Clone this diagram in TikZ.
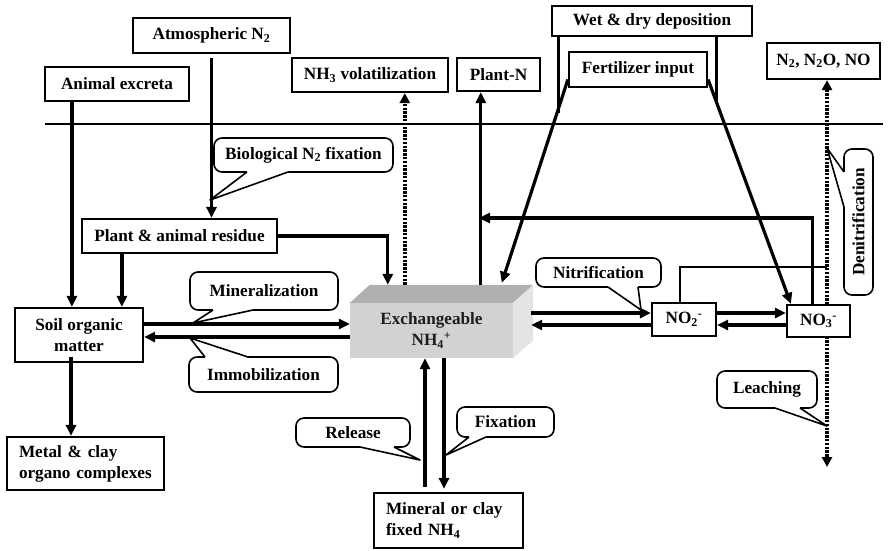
\documentclass[tikz,border=0pt]{standalone}
\usepackage{fontspec}
\setmainfont{Liberation Serif}
\usetikzlibrary{arrows.meta,calc}
\pgfdeclarelayer{background}
\pgfsetlayers{background,main}
\definecolor{exfront}{HTML}{D2D2D2}
\definecolor{extop}{HTML}{B0B0B0}
\definecolor{exside}{HTML}{E4E4E4}
\definecolor{extext}{HTML}{1E1E1E}

% speech-bubble pointer: base point, base point, tip, inward offset
\newcommand\calloutptr[4]{%
  \fill[white] (#1) -- (#3) -- (#2) -- ($(#2)+(#4)$) -- ($(#1)+(#4)$) -- cycle;
  \draw[callline] (#1) -- (#3) -- (#2);
}

\begin{document}
\begin{tikzpicture}[x=1pt,y=-1pt,
  font=\bfseries\fontsize{17.2}{21}\selectfont,
  box/.style={draw,line width=2.2pt,fill=white,inner sep=0pt,align=center},
  callbox/.style={draw,line width=1.6pt,rounded corners=8pt,fill=white,inner sep=0pt},
  callline/.style={line width=1.6pt,line join=round},
  tip/.style={-{Triangle[length=11pt,width=10pt]}},
  flow/.style={line width=3.2pt,tip},
  plainflow/.style={line width=3pt},
  gasflow/.style={line width=3.4pt,dash pattern=on 2.4pt off 1.4pt},
  surface/.style={line width=1.6pt}
]
\useasboundingbox (0,0) rectangle (891,550);

% ---- pools and sources ----
\node[box,minimum width=157pt,minimum height=35pt] (atm) at (211.5,35.5) {Atmospheric N\textsubscript{2}};
\node[box,minimum width=144pt,minimum height=34pt] (excreta) at (117,84) {Animal excreta};
\node[box,minimum width=156pt,minimum height=34pt] (nh3) at (370,75) {NH\textsubscript{3} volatilization};
\node[box,minimum width=83pt,minimum height=33pt] (plantn) at (498.5,74.5) {Plant-N};
\node[box,minimum width=200pt,minimum height=30pt] (wetdry) at (652,21) {Wet \& dry deposition};
\node[box,minimum width=138pt,minimum height=35pt] (fert) at (638,69.5) {Fertilizer input};
\node[box,minimum width=113pt,minimum height=36pt] (n2o) at (823.5,61) {N\textsubscript{2}, N\textsubscript{2}O, NO};
\node[box,minimum width=195pt,minimum height=34pt] (residue) at (179.5,236) {Plant \& animal residue};
\node[box,minimum width=128pt,minimum height=54pt] (soil) at (79,335) {Soil organic\\matter};
\node[box,minimum width=64pt,minimum height=33pt] (no2) at (684,319.5) {NO\textsubscript{2}\textsuperscript{-}};
\node[box,minimum width=63pt,minimum height=32pt] (no3) at (818.5,321) {NO\textsubscript{3}\textsuperscript{-}};
\node[box,minimum width=157pt,minimum height=53pt,text width=133pt,align=left] (metal) at (85.5,463.5) {Metal \& clay\\organo complexes};
\node[box,minimum width=149pt,minimum height=55pt,text width=125pt,align=left] (mineral) at (448.5,520.5) {Mineral or clay\\fixed NH\textsubscript{4}};

% ---- exchangeable ammonium block ----
\node[fill=exfront,inner sep=0pt,minimum width=163pt,minimum height=55pt,align=center,text=extext] (exch) at (431.5,330.5) {};
\coordinate (exTL) at ([shift={(20,-18)}]exch.north west);
\coordinate (exTR) at ([shift={(20,-18)}]exch.north east);
\coordinate (exBR) at ([shift={(20,-18)}]exch.south east);
\fill[extop] (exch.north west) -- (exTL) -- (exTR) -- (exch.north east) -- cycle;
\fill[exside] (exch.north east) -- (exTR) -- (exBR) -- (exch.south east) -- cycle;
\node[align=center,text=extext] (exchlabel) at (exch.center) {Exchangeable\\NH\textsubscript{4}\textsuperscript{+}};

% ---- soil surface ----
\draw[surface] (45,124) -- (883,124);

% ---- junction points ----
\coordinate (legL) at (558,113);
\coordinate (legR) at (716,103);
\coordinate (uptake) at (479,218);
\coordinate (denitjoin) at (827,267);
\coordinate (leachend) at (827,467);

% ---- gaseous losses and leaching (behind the boxes) ----
\begin{pgfonlayer}{background}
\draw[gasflow,{Triangle[length=10pt,width=10pt]}-{Triangle[length=10pt,width=10pt]}]
  (n2o.south -| denitjoin) -- (leachend);
\end{pgfonlayer}
\draw[gasflow,-{Triangle[length=10pt,width=10pt]}] ([xshift=35pt]exTL) -- ([xshift=35pt]exTL |- nh3.south);

% ---- inputs ----
\draw[flow] ([yshift=-4pt]atm.south) -- (atm.south |- residue.north);
\draw[flow] ([xshift=28pt]excreta.south west) -- ([xshift=28pt]excreta.south west |- soil.north);
\draw[flow] ([xshift=41pt]residue.south west) -- ([xshift=41pt]residue.south west |- soil.north);
\draw[flow] (residue.east) -| ([xshift=18pt]exTL);
\draw[flow] ([yshift=-10pt]fert.west) -- ([shift={(132,-2)}]exTL);
\draw[flow] ([yshift=-10pt]fert.east) -- ([xshift=5pt]no3.north west);
\draw[plainflow] (wetdry.south -| legL) -- (legL);
\draw[plainflow] (wetdry.south -| legR) -- (legR);

% ---- plant uptake ----
\draw[flow] ([xshift=111pt]exTL) -- ([xshift=111pt]exTL |- plantn.south);
\draw[flow] ([xshift=-39pt]no3.north east) |- (uptake);

% ---- transformations ----
\draw[flow] ([yshift=11pt]soil.east) -- ([yshift=11pt]soil.east -| exch.west);
\draw[flow] ([yshift=-2pt]soil.east -| exch.west) -- ([yshift=-2pt]soil.east);
\draw[flow] ([shift={(18,-17.5)}]exch.east) -- ([yshift=6.5pt]no2.west);
\draw[flow] ([yshift=-5.5pt]no2.west) -- ([shift={(18,-5.5)}]exch.east);
\draw[flow] ([yshift=6.5pt]no2.east) -- ([yshift=6.5pt]no2.east -| no3.west);
\draw[flow] ([yshift=-5.5pt]no2.east -| no3.west) -- ([yshift=-5.5pt]no2.east);
\draw[plainflow,line width=2.6pt] ([xshift=29pt]no2.north west) |- (denitjoin);
\draw[flow] ([shift={(-8,-6)}]soil.south) -- ([xshift=-8pt]soil.south |- metal.north);
\draw[flow] ([shift={(-23.5,-5)}]mineral.north) -- ([xshift=-23.5pt]mineral.north |- exch.south);
\draw[flow] ([xshift=-4.5pt]mineral.north |- exch.south) -- ([shift={(-4.5,-3)}]mineral.north);

% ---- process labels ----
\node[callbox,minimum width=179pt,minimum height=34pt] (bio) at (303.5,155) {Biological N\textsubscript{2} fixation};
\calloutptr{247,172}{288,172}{210,200}{0,-2}
\node[callbox,minimum width=148pt,minimum height=38pt] (minz) at (264,291) {Mineralization};
\calloutptr{213,310}{253,310}{193,323}{0,-2}
\node[callbox,minimum width=149pt,minimum height=35pt] (immob) at (263.5,374.5) {Immobilization};
\calloutptr{205,357}{248,357}{190,338}{0,2}
\node[callbox,minimum width=125pt,minimum height=29pt] (nitr) at (598.5,272.5) {Nitrification};
\calloutptr{608,287}{638,287}{641,310}{0,-2}
\node[callbox,rotate=90,minimum width=146pt,minimum height=29pt] (denit) at (858.5,222) {Denitrification};
\calloutptr{844,172}{844,207}{827,148}{2,0}
\node[callbox,minimum width=100pt,minimum height=37pt] (leach) at (767,389.5) {Leaching};
\calloutptr{775,408}{800,408}{827,426}{0,-2}
\node[callbox,minimum width=114pt,minimum height=29pt] (release) at (353,432.5) {Release};
\calloutptr{360,447}{394,447}{420,460}{0,-2}
\node[callbox,minimum width=97pt,minimum height=30pt] (fixat) at (505.5,422) {Fixation};
\calloutptr{469,437}{486,437}{446,455}{0,-2}
\end{tikzpicture}
\end{document}
